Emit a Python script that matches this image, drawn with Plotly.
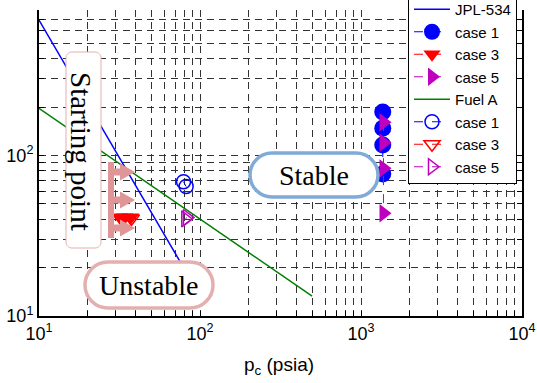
import plotly.graph_objects as go

# ---------------- data ----------------
jpl_line_x = [10, 75]
jpl_line_y = [695, 21.9]
fuelA_line_x = [10, 497]
fuelA_line_y = [196, 13.3]

jpl_case1_x = [1365, 1365, 1365, 1365]
jpl_case1_y = [186, 147.5, 116, 76.5]
jpl_case3_x = [31.7, 34.1, 37.2]
jpl_case3_y = [41.2, 41.2, 41.2]
jpl_case5_x = [1380, 1380, 1380, 1380]
jpl_case5_y = [161, 120, 83, 43.6]

fuelA_case1_x = [79, 82]
fuelA_case1_y = [68.5, 64]
fuelA_case3_x = [37.5]
fuelA_case3_y = [40.5]
fuelA_case5_x = [81, 83]
fuelA_case5_y = [40.2, 41]

x_decades = [10, 100, 1000, 10000]
y_decades = [10, 100]
decade_labels = {10: "10<sup>1</sup>", 100: "10<sup>2</sup>", 1000: "10<sup>3</sup>", 10000: "10<sup>4</sup>"}

# ---------------- layout geometry ----------------
W, H = 537, 383
L, R, T, B = 39, 15, 10, 67
PW = W - L - R
PH = H - T - B


def px(x):
    return (x - L) / PW


def py(y):
    return (H - B - y) / PH


def rrect(x0, y0, x1, y1, r):
    k = 0.5523 * r
    s = f"M{px(x0 + r)},{py(y0)} L{px(x1 - r)},{py(y0)} "
    s += f"C{px(x1 - r + k)},{py(y0)} {px(x1)},{py(y0 + r - k)} {px(x1)},{py(y0 + r)} "
    s += f"L{px(x1)},{py(y1 - r)} "
    s += f"C{px(x1)},{py(y1 - r + k)} {px(x1 - r + k)},{py(y1)} {px(x1 - r)},{py(y1)} "
    s += f"L{px(x0 + r)},{py(y1)} "
    s += f"C{px(x0 + r - k)},{py(y1)} {px(x0)},{py(y1 - r + k)} {px(x0)},{py(y1 - r)} "
    s += f"L{px(x0)},{py(y0 + r)} "
    s += f"C{px(x0)},{py(y0 + r - k)} {px(x0 + r - k)},{py(y0)} {px(x0 + r)},{py(y0)} Z"
    return s


def poly(points):
    return "M" + " L".join(f"{px(a)},{py(b)}" for a, b in points) + " Z"


def ticks_for(decades, upto):
    vals = []
    for d in decades:
        for m in range(1, 10):
            v = d * m
            if v <= upto:
                vals.append(v)
    return vals


xt = ticks_for([10, 100, 1000], 10000) + [10000]
yt = ticks_for([10, 100], 800)
xtt = [decade_labels.get(v, "") for v in xt]
ytt = [decade_labels.get(v, "") for v in yt]

BLUE = "#0000FF"
RED = "#FF0000"
MAG = "#BF00BF"
GREEN = "#008000"

fig = go.Figure()
fig.add_trace(go.Scatter(x=jpl_line_x, y=jpl_line_y, mode="lines", name="JPL-534",
                         line=dict(color=BLUE, width=1.5)))
fig.add_trace(go.Scatter(x=jpl_case1_x, y=jpl_case1_y, mode="lines+markers", name="case 1",
                         line=dict(color=BLUE, width=1, dash="dash"),
                         marker=dict(symbol="circle", size=17, color=BLUE)))
fig.add_trace(go.Scatter(x=jpl_case3_x, y=jpl_case3_y, mode="lines+markers", name="case 3",
                         line=dict(color=RED, width=1, dash="dash"),
                         marker=dict(symbol="triangle-down", size=15, color=RED)))
fig.add_trace(go.Scatter(x=jpl_case5_x, y=jpl_case5_y, mode="lines+markers", name="case 5",
                         line=dict(color=MAG, width=1, dash="dash"),
                         marker=dict(symbol="triangle-right", size=16, color=MAG)))
fig.add_trace(go.Scatter(x=fuelA_line_x, y=fuelA_line_y, mode="lines", name="Fuel A",
                         line=dict(color=GREEN, width=1.5)))
fig.add_trace(go.Scatter(x=fuelA_case1_x, y=fuelA_case1_y, mode="lines+markers", name="case 1",
                         line=dict(color=BLUE, width=1, dash="dash"),
                         marker=dict(symbol="circle-open", size=14, color=BLUE, line=dict(width=1.5))))
fig.add_trace(go.Scatter(x=fuelA_case3_x, y=fuelA_case3_y, mode="lines+markers", name="case 3",
                         line=dict(color=RED, width=1, dash="dash"),
                         marker=dict(symbol="triangle-down-open", size=14, color=RED, line=dict(width=1.5))))
fig.add_trace(go.Scatter(x=fuelA_case5_x, y=fuelA_case5_y, mode="lines+markers", name="case 5",
                         line=dict(color=MAG, width=1, dash="dash"),
                         marker=dict(symbol="triangle-right-open", size=14, color=MAG, line=dict(width=1.5))))

PINK_T = "rgb(228,175,175)"
PINK_A = "rgb(222,150,150)"
BLUE_B = "rgb(128,170,215)"

shapes = [
    dict(type="path", xref="paper", yref="paper", path=rrect(66, 52, 101, 248, 6),
         fillcolor="white", line=dict(color=PINK_T, width=1), layer="above"),
    dict(type="path", xref="paper", yref="paper", path=rrect(250, 153, 378, 197, 22),
         fillcolor="white", line=dict(color=BLUE_B, width=3.5), layer="above"),
    dict(type="path", xref="paper", yref="paper", path=rrect(85, 262, 213, 308, 23),
         fillcolor="white", line=dict(color=PINK_T, width=3.5), layer="above"),
    dict(type="path", xref="paper", yref="paper",
         path=poly([(108, 162), (114, 162), (114, 238), (108, 238)]),
         fillcolor=PINK_A, line=dict(width=0), layer="above"),
]
for yc in (172, 200, 228):
    shapes.append(dict(type="path", xref="paper", yref="paper",
                       path=poly([(113, yc - 3.5), (120, yc - 3.5), (120, yc - 8.5), (135, yc),
                                  (120, yc + 8.5), (120, yc + 3.5), (113, yc + 3.5)]),
                       fillcolor=PINK_A, line=dict(width=0), layer="above"))

SERIF = "Liberation Serif, Times New Roman, serif"
SANS = "Liberation Sans, Arial, sans-serif"


def ann(text, x, y, size, family, angle=0):
    return dict(text=text, x=px(x), y=py(y), xref="paper", yref="paper",
                xanchor="center", yanchor="middle", textangle=angle, showarrow=False,
                font=dict(family=family, size=size, color="black"))


annotations = [
    ann("Starting point", 81, 151, 29, SERIF, 90),
    ann("Stable", 314, 175, 28, SERIF),
    ann("Unstable", 149, 285, 28, SERIF),
    ann("p<sub>c</sub> (psia)", 279, 366, 19, SANS),
]

axis_common = dict(
    type="log", showgrid=True, gridcolor="#333333", gridwidth=1, griddash="7px,5px",
    showline=True, linecolor="black", linewidth=2, ticks="inside", ticklen=5,
    tickcolor="black", tickwidth=1, zeroline=False, automargin=False,
    tickfont=dict(family=SANS, size=18, color="black"), tickmode="array",
)

fig.update_layout(
    width=W, height=H,
    margin=dict(l=L, r=R, t=T, b=B, pad=0, autoexpand=False),
    paper_bgcolor="white", plot_bgcolor="white",
    xaxis=dict(range=[1, 4], tickvals=xt, ticktext=xtt, **axis_common),
    yaxis=dict(range=[1, 2.905], tickvals=yt, ticktext=ytt, mirror="ticks", **axis_common),
    showlegend=True,
    legend=dict(x=px(517), xanchor="right", y=py(184), yanchor="bottom",
                bgcolor="white", bordercolor="black", borderwidth=1,
                font=dict(family=SANS, size=15, color="black"),
                itemwidth=36, tracegroupgap=0),
    shapes=shapes,
    annotations=annotations,
)

fig.write_html("out.html", config={"displayModeBar": False})
